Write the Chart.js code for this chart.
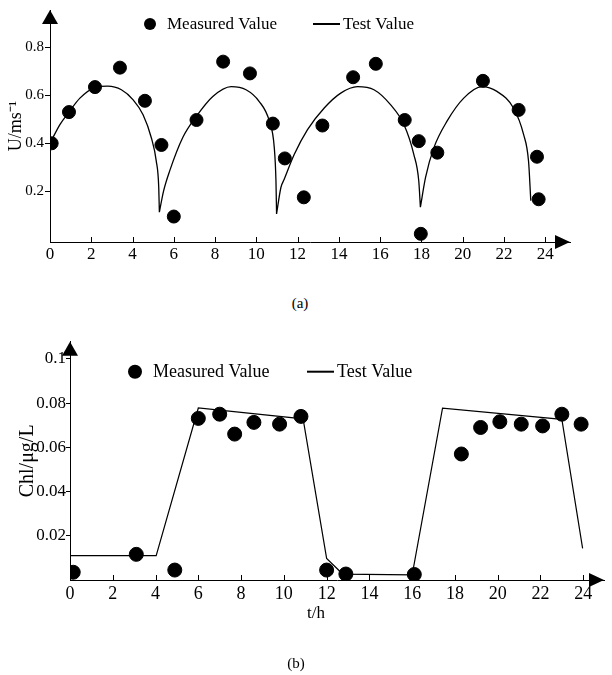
<!DOCTYPE html>
<html>
<head>
<meta charset="utf-8">
<script src="https://cdn.jsdelivr.net/npm/chart.js@4.4.0/dist/chart.umd.min.js"></script>
<style>
    body { margin: 0; background: #fff; }
    #pagina { position: relative; width: 612px; height: 675px; font-family: "Liberation Serif", serif; color: #000; }
    #grafico1 { position: absolute; left: 0; top: 0; }
    #grafico2 { position: absolute; left: 0; top: 320px; }
    .rotulo { position: absolute; transform: translate(-50%, -50%); white-space: nowrap; }
</style>
</head>
<body>
<div id="pagina">
    <canvas id="grafico1" width="612" height="290"></canvas>
    <div class="rotulo" style="left:300px; top:303px; font-size:15px">(a)</div>
    <canvas id="grafico2" width="612" height="310"></canvas>
    <div class="rotulo" style="left:316px; top:613px; font-size:17px">t/h</div>
    <div class="rotulo" style="left:296px; top:663px; font-size:15px">(b)</div>
</div>
<script>
// (a) velocidade - valores medidos
const medidoT = [0.08, 0.92, 2.18, 3.39, 4.6, 5.4, 6.0, 7.1, 8.39, 9.69, 10.8, 11.38, 12.3, 13.2, 14.69, 15.79, 17.19, 17.87, 17.97, 18.77, 20.98, 22.71, 23.6, 23.68];
const medidoU = [0.40, 0.53, 0.634, 0.715, 0.577, 0.393, 0.095, 0.497, 0.74, 0.691, 0.482, 0.337, 0.175, 0.474, 0.675, 0.731, 0.497, 0.409, 0.023, 0.361, 0.66, 0.539, 0.344, 0.167];

// (a) velocidade - valores de teste (null separa os arcos)
const testeT = [0, 0.48, 0.92, 1.45, 2.17, 2.8, 3.46, 4.03, 4.51, 4.91, 5.15, 5.27, 5.3, null,
    5.3, 5.5, 5.8, 6.44, 7.09, 7.89, 8.78, 9.5, 10.14, 10.63, 10.87, 10.95, 10.98, null,
    10.98, 11.19, 11.35, 11.84, 12.48, 13.29, 14.09, 14.9, 15.7, 16.5, 17.15, 17.63, 17.87, 17.95, null,
    17.95, 18.2, 18.6, 19.24, 20.05, 20.93, 21.66, 22.46, 22.95, 23.19, 23.3];
const testeU = [0.40, 0.478, 0.53, 0.588, 0.632, 0.638, 0.623, 0.581, 0.519, 0.423, 0.326, 0.216, 0.113, null,
    0.113, 0.2, 0.285, 0.425, 0.512, 0.595, 0.636, 0.623, 0.574, 0.492, 0.381, 0.244, 0.106, null,
    0.106, 0.216, 0.25, 0.354, 0.457, 0.547, 0.609, 0.636, 0.623, 0.561, 0.478, 0.354, 0.244, 0.134, null,
    0.134, 0.258, 0.381, 0.492, 0.588, 0.636, 0.616, 0.547, 0.437, 0.326, 0.161];

// (b) clorofila
const medidoT2 = [0.15, 3.1, 4.9, 6.0, 7.0, 7.7, 8.6, 9.8, 10.8, 12.0, 12.9, 16.1, 18.3, 19.2, 20.1, 21.1, 22.1, 23.0, 23.9];
const medidoChl = [0.0035, 0.0116, 0.0045, 0.0731, 0.075, 0.066, 0.0713, 0.0705, 0.074, 0.0045, 0.0027, 0.0025, 0.057, 0.069, 0.0716, 0.0705, 0.0697, 0.075, 0.0705];
const testeT2 = [0, 4.03, 6.0, 10.9, 12.0, 12.75, 16.0, 17.42, 23.0, 23.97];
const testeChl = [0.011, 0.011, 0.0778, 0.0729, 0.0098, 0.0027, 0.0023, 0.0777, 0.0727, 0.0143];

// ticks
const xTicks = [0, 2, 4, 6, 8, 10, 12, 14, 16, 18, 20, 22, 24];
const uTicks = [0.2, 0.4, 0.6, 0.8];
const chlTicks = [0.02, 0.04, 0.06, 0.08, 0.1];

Chart.defaults.font.family = "'Liberation Serif', serif";
Chart.defaults.font.size = 16;
Chart.defaults.color = '#000';

function juntar(xs, ys) {
    return xs.map((x, i) => ({ x: x, y: ys[i] }));
}

// setas nos eixos, ticks do eixo x para dentro e legenda
const eixosSeta = {
    id: 'eixosSeta',
    afterDraw(chart, args, opts) {
        const ctx = chart.ctx;
        const a = chart.chartArea;
        const x = chart.scales.x;
        ctx.save();
        ctx.strokeStyle = '#000';
        ctx.fillStyle = '#000';
        ctx.lineWidth = 1;
        x.ticks.forEach(t => {
            if (t.value === 0) return;
            const px = Math.round(x.getPixelForValue(t.value)) + 0.5;
            ctx.beginPath();
            ctx.moveTo(px, a.bottom);
            ctx.lineTo(px, a.bottom - 5);
            ctx.stroke();
        });
        ctx.beginPath();
        ctx.moveTo(a.left, a.top);
        ctx.lineTo(a.left - 8, a.top + 14);
        ctx.lineTo(a.left + 8, a.top + 14);
        ctx.closePath();
        ctx.fill();
        ctx.beginPath();
        ctx.moveTo(a.right, a.bottom);
        ctx.lineTo(a.right - 15, a.bottom - 7);
        ctx.lineTo(a.right - 15, a.bottom + 7);
        ctx.closePath();
        ctx.fill();

        // legenda
        const ds = chart.data.datasets;
        ctx.font = opts.fonte + "px 'Liberation Serif', serif";
        ctx.textBaseline = 'middle';
        ctx.beginPath();
        ctx.arc(opts.ponto, opts.y, opts.raio, 0, Math.PI * 2);
        ctx.fill();
        ctx.fillText(ds[0].label, opts.textoPonto, opts.y + 1);
        ctx.lineWidth = 2;
        ctx.beginPath();
        ctx.moveTo(opts.linha[0], opts.y);
        ctx.lineTo(opts.linha[1], opts.y);
        ctx.stroke();
        ctx.fillText(ds[1].label, opts.textoLinha, opts.y + 1);
        ctx.restore();
    }
};

new Chart(document.getElementById('grafico1'), {
    type: 'scatter',
    data: {
        datasets: [
            {
                label: 'Measured Value',
                data: juntar(medidoT, medidoU),
                backgroundColor: '#000',
                borderColor: '#000',
                pointRadius: 6.5,
                pointHoverRadius: 6.5
            },
            {
                label: 'Test Value',
                data: juntar(testeT, testeU),
                showLine: true,
                borderColor: '#000',
                borderWidth: 1.3,
                pointRadius: 0,
                cubicInterpolationMode: 'monotone',
                spanGaps: false
            }
        ]
    },
    options: {
        responsive: false,
        animation: false,
        layout: { padding: { top: 8, right: 42, left: 0, bottom: 0 } },
        plugins: {
            legend: { display: false },
            tooltip: { enabled: false },
            eixosSeta: { y: 24, ponto: 150, raio: 6, textoPonto: 167, linha: [313, 340], textoLinha: 343, fonte: 17 }
        },
        scales: {
            x: {
                type: 'linear',
                min: 0,
                max: 25.2,
                afterBuildTicks: s => { s.ticks = xTicks.map(v => ({ value: v })); },
                afterFit: s => { s.height = 48; },
                ticks: { padding: -6, maxRotation: 0, autoSkip: false, font: { size: 17 } },
                grid: { display: false },
                border: { color: '#000', width: 1 }
            },
            y: {
                min: -0.011,
                max: 0.955,
                afterBuildTicks: s => { s.ticks = uTicks.map(v => ({ value: v })); },
                afterFit: s => { s.width = 50; },
                ticks: { padding: 1, font: { size: 15 }, callback: v => String(v) },
                grid: { drawOnChartArea: false, drawTicks: true, tickLength: 5, color: '#000' },
                border: { color: '#000', width: 1 },
                title: { display: true, text: 'U/ms⁻¹', font: { size: 18 }, padding: { top: 5, bottom: 0 } }
            }
        }
    },
    plugins: [eixosSeta]
});

new Chart(document.getElementById('grafico2'), {
    type: 'scatter',
    data: {
        datasets: [
            {
                label: 'Measured Value',
                data: juntar(medidoT2, medidoChl),
                backgroundColor: '#000',
                borderColor: '#000',
                pointRadius: 7,
                pointHoverRadius: 7
            },
            {
                label: 'Test Value',
                data: juntar(testeT2, testeChl),
                showLine: true,
                borderColor: '#000',
                borderWidth: 1.2,
                pointRadius: 0
            }
        ]
    },
    options: {
        responsive: false,
        animation: false,
        layout: { padding: { top: 21.7, right: 1, left: 0, bottom: 0 } },
        plugins: {
            legend: { display: false },
            tooltip: { enabled: false },
            eixosSeta: { y: 51.7, ponto: 135, raio: 7, textoPonto: 153, linha: [307, 334], textoLinha: 337, fonte: 18 }
        },
        scales: {
            x: {
                type: 'linear',
                min: 0,
                max: 24.97,
                afterBuildTicks: s => { s.ticks = xTicks.map(v => ({ value: v })); },
                afterFit: s => { s.height = 50; },
                ticks: { padding: -5, maxRotation: 0, autoSkip: false, font: { size: 18 } },
                grid: { display: false },
                border: { color: '#000', width: 1 }
            },
            y: {
                min: 0,
                max: 0.1078,
                afterBuildTicks: s => { s.ticks = chlTicks.map(v => ({ value: v })); },
                afterFit: s => { s.width = 70; },
                ticks: { padding: 0, font: { size: 17 }, callback: v => String(v) },
                grid: { drawOnChartArea: false, drawTicks: true, tickLength: 4, color: '#000' },
                border: { color: '#000', width: 1 },
                title: { display: true, text: 'Chl/μg/L', font: { size: 20 }, padding: { top: 16, bottom: 0 } }
            }
        }
    },
    plugins: [eixosSeta]
});
</script>
</body>
</html>
